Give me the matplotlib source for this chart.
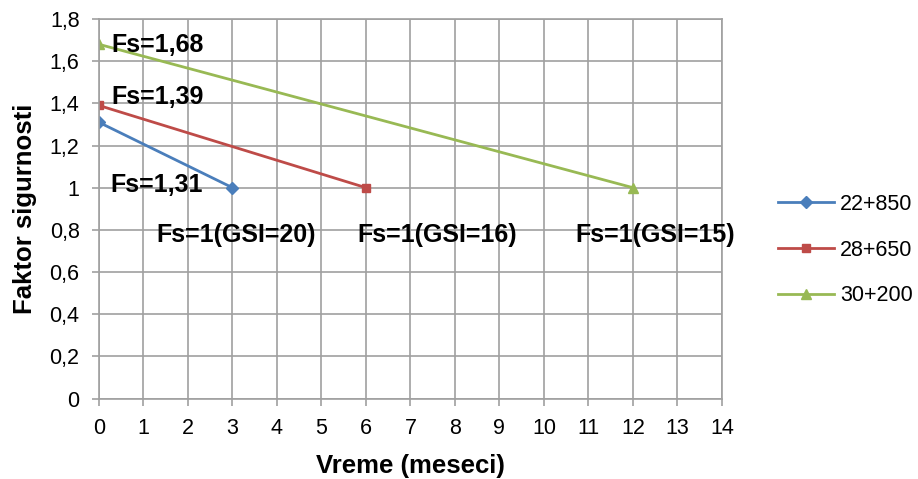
import matplotlib
matplotlib.use("Agg")
import matplotlib.pyplot as plt

plt.rcParams['font.family'] = ['Liberation Sans', 'DejaVu Sans']

# data
months_a = [0, 3]
fs_a = [1.31, 1.0]
months_b = [0, 6]
fs_b = [1.39, 1.0]
months_c = [0, 12]
fs_c = [1.68, 1.0]
series_labels = ["22+850", "28+650", "30+200"]
y_ticks = [0, 0.2, 0.4, 0.6, 0.8, 1.0, 1.2, 1.4, 1.6, 1.8]
y_tick_labels = ["0", "0,2", "0,4", "0,6", "0,8", "1", "1,2", "1,4", "1,6", "1,8"]

fig = plt.figure(figsize=(9.18, 4.79), dpi=100)
ax = fig.add_axes([0.1078, 0.168, 0.6786, 0.7923])

ax.plot(months_a, fs_a, color="#4a7ebb", lw=2.0, marker="D", ms=6, label=series_labels[0])
ax.plot(months_b, fs_b, color="#be4b48", lw=2.0, marker="s", ms=6, label=series_labels[1])
ax.plot(months_c, fs_c, color="#98b954", lw=2.0, marker="^", ms=7.5, label=series_labels[2])

ax.set_xlim(0, 14)
ax.set_ylim(0, 1.8)
ax.set_xticks(range(0, 15))
ax.set_yticks(y_ticks)
ax.set_yticklabels(y_tick_labels)
ax.grid(True, color="#a0a0a0", lw=1.2)
ax.set_axisbelow(True)
for s in ax.spines.values():
    s.set_color("#a0a0a0")
    s.set_linewidth(1.2)
ax.tick_params(labelsize=15.5, length=5, width=1.2, color="#a0a0a0", pad=9)

ax.set_xlabel("Vreme (meseci)", fontsize=18.5, fontweight="bold", labelpad=11)
ax.set_ylabel("Faktor sigurnosti", fontsize=18.5, fontweight="bold", labelpad=9)

kw = dict(fontsize=18, fontweight="bold", va="center")
ax.text(0.29, 1.677, "Fs=1,68", **kw)
ax.text(0.29, 1.430, "Fs=1,39", **kw)
ax.text(0.25, 1.013, "Fs=1,31", **kw)
ax.text(1.30, 0.776, "Fs=1(GSI=20)", **kw)
ax.text(5.80, 0.776, "Fs=1(GSI=16)", **kw)
ax.text(10.70, 0.776, "Fs=1(GSI=15)", **kw)

fig.legend(loc="center left", bbox_to_anchor=(0.826, 0.478), frameon=False,
           fontsize=15.5, handlelength=2.6, handletextpad=0.3, labelspacing=1.15)

fig.savefig("out.png", dpi=100)
